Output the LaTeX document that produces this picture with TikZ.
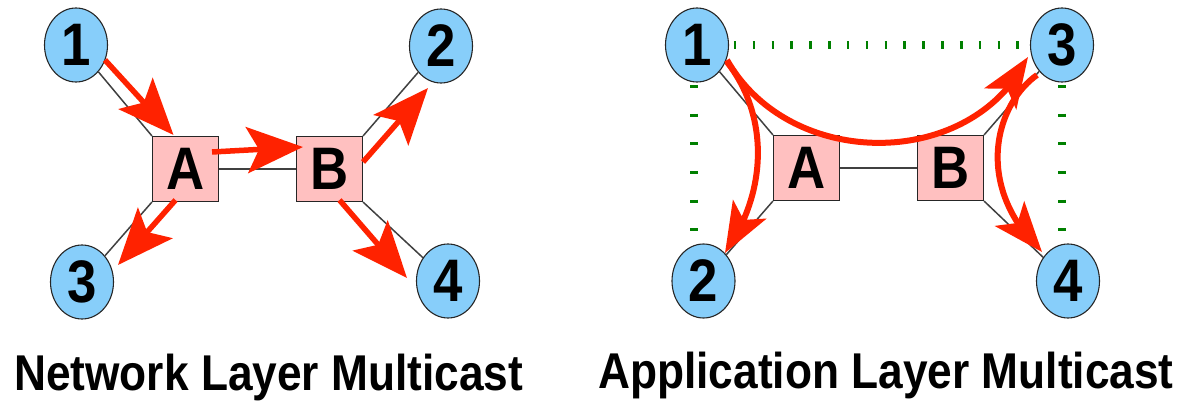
\documentclass[tikz,border=0pt]{standalone}
\usepackage{fontspec}
\newfontfamily\diagfont{Liberation Sans}[FakeStretch=0.88]
\usetikzlibrary{arrows.meta,bending,shapes.geometric}

\definecolor{hostblue}{RGB}{135,206,250}
\definecolor{routerpink}{RGB}{255,192,192}
\definecolor{flowred}{RGB}{255,34,0}
\definecolor{overlaygreen}{RGB}{0,128,0}

\tikzset{
  host/.style={ellipse, draw=black!85, line width=1.1pt, fill=hostblue,
    minimum width=63pt, minimum height=74pt, inner sep=0pt,
    font=\diagfont\bfseries\fontsize{60}{60}\selectfont},
  router/.style={rectangle, draw=black!85, line width=1.1pt, fill=routerpink,
    minimum width=66pt, minimum height=65pt, inner sep=0pt,
    font=\diagfont\bfseries\fontsize{60}{60}\selectfont},
  link/.style={draw=black!75, line width=1.5pt},
  flow/.style={draw=flowred, line width=5.5pt,
    -{Stealth[length=56pt,width=46pt,inset=12pt]}},
  curvedflow/.style={draw=flowred, line width=6pt,
    -{Stealth[length=50pt,width=38pt,inset=12pt]}},
  overlayh/.style={draw=overlaygreen, line width=8pt,
    dash pattern=on 2.6pt off 16.24pt, dash phase=14.04pt},
  overlayv/.style={draw=overlaygreen, line width=8pt,
    dash pattern=on 3pt off 25.6pt, dash phase=26pt},
  title/.style={font=\diagfont\bfseries\fontsize{50.3}{55}\selectfont,
    inner sep=0pt, anchor=base west}
}

\begin{document}
\begin{tikzpicture}[x=1pt, y=-1pt]
\useasboundingbox (0,0) rectangle (1184,401);

% ---------- network layer multicast ----------
\node[host] (n1) at (76,45) {1};
\node[host] (n2) at (441,46) {2};
\node[host] (n3) at (82,282) {3};
\node[host] (n4) at (448,281) {4};
\node[router] (A) at (185.5,169) {A};
\node[router] (B) at (329.5,169) {B};

\draw[link] (n1) -- (A.north west);
\draw[link] (n3) -- (A.south west);
\draw[link] (n2) -- (B.north east);
\draw[link] (n4) -- (B.south east);
\draw[link] (A.east) -- (B.west);

\draw[flow] ([shift={(29,15)}]n1.center) -- ([shift={(-12,-1)}]A.north);
\draw[flow] ([shift={(-7,-17)}]A.east) -- ([shift={(7,-22)}]B.west);
\draw[flow] ([shift={(0,-7)}]B.east) -- ([shift={(-13,42)}]n2.center);
\draw[flow] ([shift={(-10,-2)}]A.south) -- ([shift={(36,-17)}]n3.center);
\draw[flow] ([shift={(10,-2)}]B.south) -- ([shift={(-41,-3)}]n4.center);

\node[title] (t1) at (14,390) {Network Layer Multicast};

% ---------- application layer multicast ----------
\coordinate (gl) at (694,0);
\coordinate (gr) at (1062,0);

\node[host] (m1) at (697,45) {1};
\node[host] (m3) at (1062,45) {3};
\node[host] (m2) at (703.5,281) {2};
\node[host] (m4) at (1068,281) {4};
\node[router] (RA) at (806.5,168) {A};
\node[router] (RB) at (950.5,168) {B};

% overlay neighbours
\draw[overlayh] (m1.east) -- (m3.west);
\draw[overlayv] (m1.south -| gl) -- (m2.north -| gl);
\draw[overlayv] (m3.south -| gr) -- (m4.north -| gr);

\draw[link] (m1) -- (RA.north west);
\draw[link] (m2) -- (RA.south west);
\draw[link] (m3) -- (RB.north east);
\draw[link] (m4) -- (RB.south east);
\draw[link] (RA.east) -- (RB.west);

\draw[curvedflow] ([shift={(30,15)}]m1.center)
  .. controls +(63,111) and +(-56,114) .. ([shift={(-34,12)}]m3.center);
\draw[curvedflow] ([shift={(30,17)}]m1.center)
  .. controls +(38,48) and +(47,-68) .. ([shift={(21.5,-28)}]m2.center);
\draw[curvedflow] ([shift={(-25,30)}]m3.center)
  .. controls +(-42,30) and +(-69,-66) .. ([shift={(-26,-29)}]m4.center);

\node[title] (t2) at (598,388) {Application Layer Multicast};
\end{tikzpicture}
\end{document}
